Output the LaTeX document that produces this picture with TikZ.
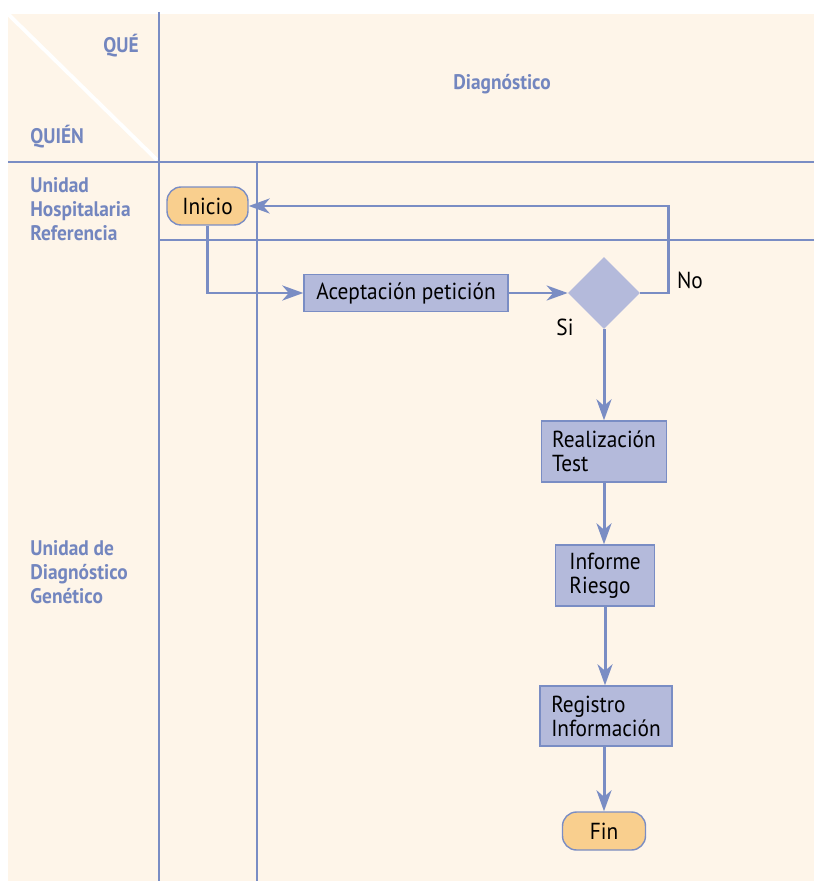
\documentclass[tikz,border=0pt]{standalone}
\usepackage{fontspec}
\setmainfont{PT Sans}[FakeStretch=0.92]
\usetikzlibrary{arrows.meta,shapes.geometric}
\definecolor{lineblue}{HTML}{7A8DC4}
\definecolor{headblue}{HTML}{7386BF}
\definecolor{boxblue}{HTML}{B4BADB}
\definecolor{startorange}{HTML}{F9CF8E}
\definecolor{cream}{HTML}{FEF5E9}
\tikzset{
  lane/.style={lineblue, line width=1.7pt},
  head/.style={headblue, font=\bfseries\fontsize{12}{13.7}\selectfont, inner sep=0pt},
  txt/.style={font=\fontsize{13.2}{13.7}\selectfont},
  actbox/.style={txt, draw=lineblue, line width=0.8pt, fill=boxblue, align=left, inner sep=0pt},
  endbox/.style={txt, draw=lineblue, line width=0.8pt, fill=startorange, rounded corners=8pt, inner sep=0pt},
  flow/.style={lineblue, line width=1.7pt, -{Stealth[length=0.42cm,width=0.3cm,inset=0.13cm]}}
}

\begin{document}
\begin{tikzpicture}[x=0.02cm,y=-0.02cm]
\useasboundingbox (0,0) rectangle (814,881);
\fill[cream] (8,14) rectangle (814,881);
\draw[white, line width=2.2pt] (8,14) -- (157,160);
% swimlanes
\draw[lane] (159,12) -- (159,881);
\draw[lane] (257,162) -- (257,881);
\draw[lane] (8,162) -- (814,162);
\draw[lane] (159,240) -- (814,240);
% headers
\node[head, anchor=east] (que) at (139,46) {QUÉ};
\node[head, anchor=west] (quien) at (30,137) {QUIÉN};
\node[head] (diag) at (502,84) {Diagnóstico};
\node[head, anchor=north west, align=left] (hosp) at (30,177) {Unidad\\Hospitalaria\\Referencia};
\node[head, anchor=north west, align=left] (genet) at (30,540) {Unidad de\\Diagnóstico\\Genético};
% activities
\node[endbox, minimum width=1.62cm, minimum height=0.76cm] (inicio) at (207.5,206) {Inicio};
\node[actbox, minimum width=4.08cm, minimum height=0.74cm] (acep) at (406,293) {Aceptación petición};
\node[diamond, fill=boxblue, minimum width=1.44cm, minimum height=1.44cm, inner sep=0pt] (dec) at (604,293) {};
\node[actbox, minimum width=2.5cm, minimum height=1.22cm] (test) at (604,451.5) {Realización\\Test};
\node[actbox, minimum width=1.98cm, minimum height=1.22cm] (inf) at (605,575.5) {Informe\\Riesgo};
\node[actbox, minimum width=2.64cm, minimum height=1.2cm] (reg) at (606,716) {Registro\\Información};
\node[endbox, minimum width=1.66cm, minimum height=0.76cm] (fin) at (604,831) {Fin};
\coordinate (noturn) at (668,293);
\node[txt] (no) at (690,280) {No};
\node[txt] (si) at (565,327) {Si};
% connectors
\draw[flow] (inicio.south) |- (acep.west);
\draw[flow] (acep.east) -- (dec.west);
\draw[flow] (dec.east) -- (noturn) |- (inicio.east);
\draw[flow] (dec.south) -- (dec.south |- test.north);
\draw[flow] (test.south) -- (test.south |- inf.north);
\draw[flow] (inf.south) -- (inf.south |- reg.north);
\draw[flow] (reg.south -| fin.north) -- (fin.north);
\end{tikzpicture}
\end{document}
